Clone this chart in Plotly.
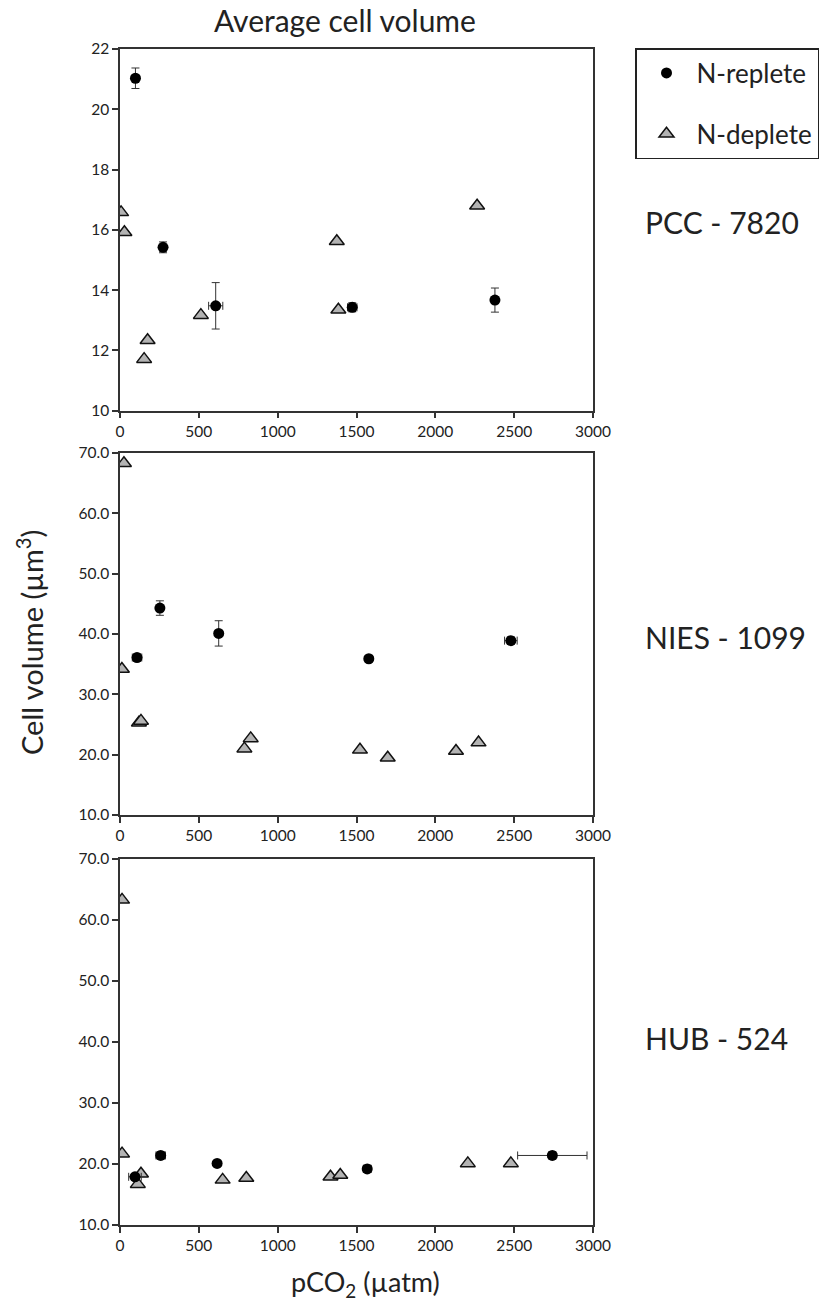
import plotly.graph_objects as go

W, H = 824, 1305

# ---------------- data ----------------
strains = ["PCC - 7820", "NIES - 1099", "HUB - 524"]

pcc_rep_x = [98, 273, 607, 1473, 2378]
pcc_rep_y = [21.03, 15.42, 13.48, 13.43, 13.67]
pcc_rep_yerr = [0.34, 0.18, 0.77, 0.15, 0.40]
pcc_rep_xerr = [0, 0, 45, 30, 20]
pcc_dep_x = [7, 28, 153, 175, 513, 1375, 1385, 2265]
pcc_dep_y = [16.58, 15.92, 11.71, 12.34, 13.17, 15.62, 13.35, 16.80]

nies_rep_x = [108, 253, 626, 1578, 2479]
nies_rep_y = [36.1, 44.3, 40.1, 35.9, 38.9]
nies_rep_yerr = [0.6, 1.2, 2.1, 0.5, 0.6]
nies_rep_xerr = [30, 15, 0, 15, 40]
nies_dep_x = [25, 12, 120, 133, 789, 829, 1522, 1698, 2131, 2274]
nies_dep_y = [68.3, 34.2, 25.3, 25.6, 21.0, 22.7, 20.8, 19.5, 20.6, 22.0]

hub_rep_x = [95, 258, 616, 1568, 2742]
hub_rep_y = [17.9, 21.4, 20.1, 19.2, 21.4]
hub_rep_yerr = [0.5, 0.6, 0.4, 0.6, 0.6]
hub_rep_xerr = [40, 30, 0, 25, 220]
hub_dep_x = [13, 13, 113, 133, 651, 801, 1335, 1397, 2206, 2479]
hub_dep_y = [63.3, 21.7, 16.7, 18.4, 17.4, 17.7, 17.9, 18.2, 20.1, 20.1]

x_ticks = [0, 500, 1000, 1500, 2000, 2500, 3000]
pcc_y_ticks = [10, 12, 14, 16, 18, 20, 22]
big_y_ticks = [10, 20, 30, 40, 50, 60, 70]

# ---------------- styling ----------------
FONT = "Lato"
TXT = "#222222"
AX = "#333333"
TRI_FILL = "#b3b3b3"

panels = [
    (pcc_rep_x, pcc_rep_y, pcc_rep_xerr, pcc_rep_yerr, pcc_dep_x, pcc_dep_y),
    (nies_rep_x, nies_rep_y, nies_rep_xerr, nies_rep_yerr, nies_dep_x, nies_dep_y),
    (hub_rep_x, hub_rep_y, hub_rep_xerr, hub_rep_yerr, hub_dep_x, hub_dep_y),
]

def px_x(p):
    return p / W

def px_y(p):
    return 1 - p / H

x_dom = [px_x(120), px_x(593)]
y_doms = [
    [px_y(410.7), px_y(49)],
    [px_y(815), px_y(453)],
    [px_y(1225), px_y(859)],
]
label_y = [222, 637, 1038]

fig = go.Figure()

for i, (rx, ry, rxe, rye, dx, dy) in enumerate(panels):
    sfx = "" if i == 0 else str(i + 1)
    fig.add_trace(go.Scatter(
        x=dx, y=dy, mode="markers", name="N-deplete",
        legendgroup="dep", legendrank=2, showlegend=(i == 0),
        marker=dict(symbol="triangle-up", size=13, color=TRI_FILL,
                    line=dict(color="#111111", width=1.5)),
        xaxis="x" + sfx, yaxis="y" + sfx,
    ))
    fig.add_trace(go.Scatter(
        x=rx, y=ry, mode="markers", name="N-replete",
        legendgroup="rep", legendrank=1, showlegend=(i == 0),
        marker=dict(symbol="circle", size=11, color="#000000"),
        error_y=dict(type="data", array=rye, color="#333333", thickness=1, width=4),
        error_x=dict(type="data", array=rxe, color="#333333", thickness=1, width=4),
        xaxis="x" + sfx, yaxis="y" + sfx,
    ))

layout = dict(
    width=W, height=H,
    margin=dict(l=0, r=0, t=0, b=0, autoexpand=False),
    paper_bgcolor="white", plot_bgcolor="white",
    font=dict(family=FONT, color=TXT, size=15.5),
    showlegend=True,
    legend=dict(
        x=px_x(635), y=px_y(48), xanchor="left", yanchor="top",
        bordercolor="#222222", borderwidth=1.5, bgcolor="white",
        font=dict(size=26, family=FONT, color=TXT),
        traceorder="grouped", tracegroupgap=24, itemwidth=50,
        entrywidth=200,
    ),
)

for i in range(3):
    sfx = "" if i == 0 else str(i + 1)
    ticks_y = pcc_y_ticks if i == 0 else big_y_ticks
    layout["xaxis" + sfx] = dict(
        domain=x_dom, range=[0, 3000], tickvals=x_ticks,
        anchor="y" + sfx, showline=True, mirror=True, linecolor=AX, linewidth=1.5,
        ticks="outside", ticklen=6, tickwidth=1.5, tickcolor=AX,
        showgrid=False, zeroline=False, tickfont=dict(size=15.5),
    )
    layout["yaxis" + sfx] = dict(
        domain=y_doms[i], range=[ticks_y[0], ticks_y[-1]], tickvals=ticks_y,
        tickformat="d" if i == 0 else ".1f",
        anchor="x" + sfx, showline=True, mirror=True, linecolor=AX, linewidth=1.5,
        ticks="outside", ticklen=6, tickwidth=1.5, tickcolor=AX,
        showgrid=False, zeroline=False, tickfont=dict(size=15.5),
    )

annotations = [
    dict(text="Average cell volume", x=px_x(345), y=px_y(20), xref="paper", yref="paper",
         xanchor="center", yanchor="middle",
         showarrow=False, font=dict(size=30, family=FONT, color=TXT)),
    dict(text="Cell volume (µm<sup>3</sup>)", x=px_x(30), y=px_y(643), xref="paper", yref="paper",
         xanchor="center", yanchor="middle",
         showarrow=False, textangle=-90, font=dict(size=29, family=FONT, color=TXT)),
    dict(text="pCO<sub>2</sub> (µatm)", x=px_x(365), y=px_y(1283), xref="paper", yref="paper",
         xanchor="center", yanchor="middle",
         showarrow=False, font=dict(size=27, family=FONT, color=TXT)),
]
for name, ly in zip(strains, label_y):
    annotations.append(dict(text=name, x=px_x(643), y=px_y(ly), xref="paper", yref="paper",
                            xanchor="left", yanchor="middle", showarrow=False,
                            font=dict(size=30, family=FONT, color=TXT)))
layout["annotations"] = annotations

fig.update_layout(**layout)
fig.write_html("out.html")
